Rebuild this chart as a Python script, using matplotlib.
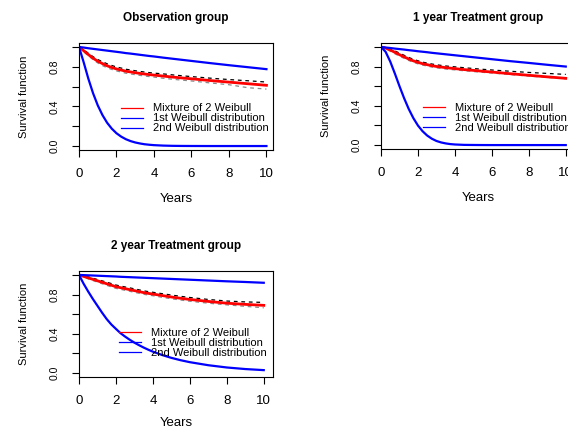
import matplotlib
matplotlib.use("Agg")
import matplotlib.pyplot as plt
from matplotlib.lines import Line2D

plt.rcParams['font.family'] = ['Liberation Sans', 'DejaVu Sans']

# ---- data ----
years = [0, 0.25, 0.5, 0.75, 1, 1.25, 1.5, 1.75, 2, 2.25, 2.5, 2.75, 3, 3.25, 3.5, 3.75,
         4, 4.5, 5, 5.5, 6, 7, 8, 9, 10]

titles = ["Observation group", "1 year Treatment group", "2 year Treatment group"]
legend_labels = ["Mixture of 2 Weibull", "1st Weibull distribution", "2nd Weibull distribution"]
x_ticks = [0, 2, 4, 6, 8, 10]
y_ticks = [0.0, 0.2, 0.4, 0.6, 0.8, 1.0]
y_tick_labels = ["0.0", "", "0.4", "", "0.8", ""]

# Observation group
obs_mixture = [1.0, 0.962, 0.923, 0.887, 0.856, 0.832, 0.810, 0.793, 0.778, 0.767, 0.755, 0.748,
               0.740, 0.733, 0.727, 0.721, 0.716, 0.706, 0.696, 0.687, 0.679, 0.661, 0.645, 0.629, 0.613]
obs_weib1 = [1.0, 0.994, 0.987, 0.981, 0.975, 0.969, 0.963, 0.957, 0.951, 0.945, 0.938, 0.933,
             0.927, 0.921, 0.915, 0.909, 0.904, 0.892, 0.881, 0.870, 0.859, 0.837, 0.816, 0.796, 0.776]
obs_weib2 = [1.0, 0.845, 0.679, 0.533, 0.411, 0.313, 0.235, 0.175, 0.129, 0.095, 0.069, 0.050,
             0.036, 0.026, 0.018, 0.013, 0.009, 0.0044, 0.002, 0.001, 0.0005, 0.0, 0.0, 0.0, 0.0]
obs_upper = [1.0, 0.972, 0.936, 0.902, 0.873, 0.852, 0.830, 0.813, 0.798, 0.787, 0.775, 0.768,
             0.760, 0.753, 0.747, 0.741, 0.736, 0.728, 0.718, 0.709, 0.701, 0.685, 0.671, 0.659, 0.646]
obs_lower = [1.0, 0.952, 0.910, 0.872, 0.839, 0.812, 0.790, 0.773, 0.758, 0.747, 0.735, 0.728,
             0.720, 0.713, 0.707, 0.701, 0.696, 0.684, 0.674, 0.665, 0.657, 0.637, 0.619, 0.589, 0.575]

# 1 year treatment group
t1_mixture = [1.0, 0.988, 0.969, 0.945, 0.921, 0.899, 0.877, 0.858, 0.843, 0.829, 0.819, 0.809,
              0.801, 0.795, 0.789, 0.784, 0.779, 0.769, 0.761, 0.752, 0.744, 0.727, 0.711, 0.695, 0.680]
t1_weib1 = [1.0, 0.994, 0.989, 0.983, 0.978, 0.973, 0.967, 0.962, 0.956, 0.951, 0.946, 0.940,
            0.935, 0.930, 0.925, 0.920, 0.915, 0.905, 0.895, 0.885, 0.875, 0.855, 0.837, 0.818, 0.800]
t1_weib2 = [1.0, 0.950, 0.851, 0.729, 0.600, 0.478, 0.368, 0.275, 0.199, 0.141, 0.097, 0.065,
            0.042, 0.027, 0.017, 0.010, 0.006, 0.002, 0.001, 0.0003, 0.0, 0.0, 0.0, 0.0, 0.0]
t1_upper = [1.0, 0.996, 0.982, 0.960, 0.937, 0.915, 0.893, 0.874, 0.859, 0.845, 0.835, 0.826,
            0.818, 0.812, 0.806, 0.801, 0.797, 0.788, 0.780, 0.772, 0.765, 0.752, 0.740, 0.730, 0.720]
t1_lower = [1.0, 0.980, 0.956, 0.931, 0.906, 0.884, 0.862, 0.843, 0.828, 0.815, 0.805, 0.795,
            0.787, 0.781, 0.775, 0.770, 0.766, 0.757, 0.749, 0.741, 0.734, 0.718, 0.703, 0.689, 0.675]

# 2 year treatment group
t2_mixture = [1.0, 0.985, 0.970, 0.955, 0.940, 0.925, 0.910, 0.895, 0.880, 0.870, 0.860, 0.850,
              0.840, 0.830, 0.820, 0.812, 0.805, 0.790, 0.775, 0.762, 0.750, 0.730, 0.712, 0.700, 0.690]
t2_weib1 = [1.0, 0.998, 0.996, 0.994, 0.992, 0.990, 0.988, 0.986, 0.984, 0.981, 0.979, 0.977,
            0.975, 0.973, 0.971, 0.969, 0.967, 0.963, 0.959, 0.955, 0.951, 0.943, 0.935, 0.928, 0.920]
t2_weib2 = [1.0, 0.910, 0.830, 0.755, 0.685, 0.615, 0.550, 0.495, 0.450, 0.406, 0.371, 0.339,
            0.310, 0.284, 0.260, 0.238, 0.218, 0.184, 0.155, 0.131, 0.111, 0.080, 0.057, 0.041, 0.030]
t2_upper = [1.0, 0.990, 0.980, 0.967, 0.953, 0.940, 0.926, 0.912, 0.897, 0.887, 0.877, 0.868,
            0.858, 0.848, 0.838, 0.830, 0.823, 0.809, 0.795, 0.782, 0.770, 0.750, 0.734, 0.725, 0.720]
t2_lower = [1.0, 0.978, 0.960, 0.943, 0.927, 0.910, 0.894, 0.878, 0.863, 0.853, 0.843, 0.833,
            0.823, 0.813, 0.803, 0.795, 0.788, 0.772, 0.757, 0.744, 0.732, 0.712, 0.695, 0.680, 0.665]

groups = [
    (obs_mixture, obs_weib1, obs_weib2, obs_upper, obs_lower),
    (t1_mixture, t1_weib1, t1_weib2, t1_upper, t1_lower),
    (t2_mixture, t2_weib1, t2_weib2, t2_upper, t2_lower),
]

# ---- layout ----
W, H = 568, 429
fig = plt.figure(figsize=(W / 100, H / 100), dpi=100)

# (left px, top px, width px, height px, xmax, legend anchor x, legend anchor y, xlabel pad)
boxes = [
    (79, 43, 194, 107, 10.35, 0.215, 0.435, 9),
    (381, 43, 194, 106, 10.5, 0.215, 0.435, 9),
    (79, 271, 194, 106, 10.5, 0.205, 0.46, 7.5),
]

for (mix, w1, w2, up, lo), title, (l, t, w, h, xmax, lx, ly, xpad) in zip(groups, titles, boxes):
    ax = fig.add_axes([l / W, 1 - (t + h) / H, w / W, h / H])
    ax.plot(years, up, color='black', lw=0.9, ls=(0, (3, 3)))
    ax.plot(years, lo, color='#888888', lw=0.9, ls=(0, (3, 3)))
    ax.plot(years, mix, color='#ff0000', lw=2.0)
    ax.plot(years, w1, color='#0000ff', lw=1.6)
    ax.plot(years, w2, color='#0000ff', lw=1.6)
    ax.set_xlim(0, xmax)
    ax.set_ylim(-0.04, 1.04)
    ax.set_xticks(x_ticks)
    ax.set_xticklabels([str(v) for v in x_ticks], fontsize=9.5)
    ax.set_yticks(y_ticks)
    ax.set_yticklabels(y_tick_labels, fontsize=7.5, rotation=90, va='center')
    ax.tick_params(axis='x', direction='out', length=5, width=0.8, pad=8)
    ax.tick_params(axis='y', direction='out', length=5, width=0.8, pad=9)
    for s in ax.spines.values():
        s.set_linewidth(0.8)
    ax.set_title(title, fontsize=8.5, fontweight='bold', pad=15.8)
    ax.set_xlabel("Years", fontsize=9.5, labelpad=xpad)
    ax.set_ylabel("Survival function", fontsize=8, labelpad=15)
    handles = [Line2D([], [], color='#ff0000', lw=0.9),
               Line2D([], [], color='#0000ff', lw=0.9),
               Line2D([], [], color='#0000ff', lw=0.9)]
    ax.legend(handles, legend_labels, loc='upper left', bbox_to_anchor=(lx, ly),
              frameon=False, fontsize=8, handlelength=2.0, handletextpad=0.9,
              labelspacing=0.0, borderpad=0, borderaxespad=0)

fig.savefig("out.png", dpi=100)
